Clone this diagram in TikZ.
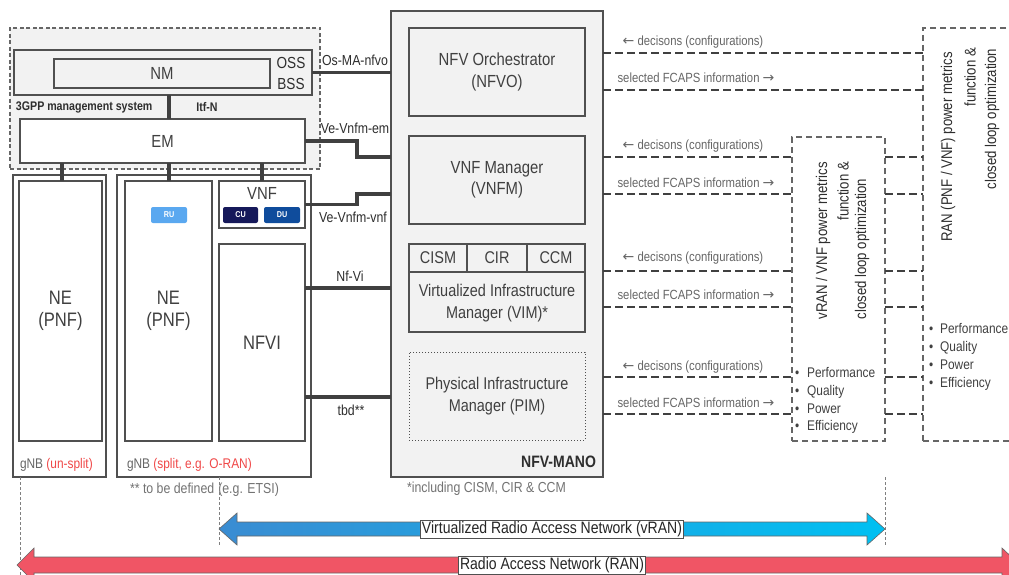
\documentclass[tikz,border=0pt]{standalone}
\usepackage{fontspec}
\setmainfont[FakeStretch=0.85]{Liberation Sans}
\newfontfamily\symf{DejaVu Sans}
\usetikzlibrary{calc}
\definecolor{boxc}{HTML}{505050}
\definecolor{fillg}{HTML}{F2F2F2}
\definecolor{txtc}{HTML}{404040}
\definecolor{connc}{HTML}{404040}
\definecolor{dashc}{HTML}{666666}
\definecolor{redt}{HTML}{F04848}
\definecolor{ruc}{HTML}{5AA8F0}
\definecolor{cuc}{HTML}{16195A}
\definecolor{duc}{HTML}{0F4C9C}
\definecolor{vranL}{HTML}{3A8CD2}
\definecolor{vranR}{HTML}{00C0F2}
\definecolor{ranc}{HTML}{F05565}
\newcommand{\fsz}[2]{\fontsize{#1}{#2}\selectfont}
\tikzset{
  box/.style={draw=boxc, line width=1.5pt, inner sep=0pt, outer sep=0pt, text=txtc},
  gbox/.style={box, fill=fillg},
  wbox/.style={box, fill=white},
  mgmtbox/.style={draw=dashc, line width=1.1pt, dash pattern=on 4pt off 2.5pt, fill=fillg, inner sep=0pt, outer sep=0pt},
  dbox/.style={draw=dashc, line width=1.4pt, dash pattern=on 6pt off 4pt, inner sep=0pt, outer sep=0pt},
  lbl/.style={inner sep=0pt, outer sep=0pt, text=txtc},
  ilbl/.style={inner sep=0pt, outer sep=0pt, text=black!82},
  conn/.style={draw=connc, line width=3.2pt},
  dconn/.style={draw=connc, line width=2.8pt, dash pattern=on 8pt off 4pt},
  guide/.style={draw=gray, line width=0.8pt, dash pattern=on 3pt off 2pt},
  chip/.style={rounded corners=2pt, inner sep=0pt, text=white, font=\bfseries\fsz{8.5}{10}},
  alabel/.style={fill=white, draw=boxc, line width=0.6pt, inner sep=1.5pt, text=black!85, font=\fsz{16.5}{18}},
}
\begin{document}
\begin{tikzpicture}[x=1pt,y=-1pt]
\path[use as bounding box] (0,0) rectangle (1009,575);
\clip (0,0) rectangle (1009,575);
\fill[white] (0,0) rectangle (1009,575);

% ---------- 3GPP management system ----------
\node[mgmtbox, minimum width=310pt, minimum height=141pt] (mgmt) at (165,98.5) {};
\node[gbox, minimum width=298pt, minimum height=45pt] (oss) at (163,72.5) {};
\node[gbox, minimum width=216pt, minimum height=29pt, font=\fsz{17.5}{20}] (nm) at (162,73.5) {NM};
\node[ilbl, align=center, font=\fsz{16}{21}] (ossl) at (291,73) {OSS\\BSS};
\node[ilbl, anchor=west, font=\bfseries\fsz{12.5}{15}] (mgl) at (16,107) {3GPP management system};
\node[ilbl, font=\bfseries\fsz{12.5}{15}] (itf) at (207,107) {Itf-N};
\node[wbox, minimum width=285pt, minimum height=44pt, font=\fsz{17.5}{20}] (em) at (162.5,141) {EM};

% ---------- gNBs ----------
\node[box, minimum width=93pt, minimum height=302pt] (gnb1) at (59.5,326) {};
\node[box, minimum width=83pt, minimum height=260pt, align=center, font=\fsz{19.5}{22}] (ne1) at (60.5,311) {NE\\(PNF)};
\node[lbl, anchor=west, font=\fsz{14}{16}] (gnb1l) at (20,465) {\textcolor{black!60}{gNB} \textcolor{redt}{(un-split)}};

\node[box, minimum width=194pt, minimum height=302pt] (gnb2) at (214,326) {};
\node[box, minimum width=87pt, minimum height=260pt, align=center, font=\fsz{19.5}{22}] (ne2) at (168.5,311) {NE\\(PNF)};
\node[chip, fill=ruc, minimum width=36pt, minimum height=16pt] (ru) at (169,215) {RU};
\node[box, minimum width=86pt, minimum height=47pt] (vnf) at (262,204.5) {};
\node[lbl, font=\fsz{17.5}{20}] (vnfl) at (262,193) {VNF};
\node[chip, fill=cuc, minimum width=35pt, minimum height=16pt] (cu) at (240.5,215) {CU};
\node[chip, fill=duc, minimum width=36pt, minimum height=16pt] (du) at (282,215) {DU};
\node[box, minimum width=86pt, minimum height=197pt, font=\fsz{19.5}{22}] (nfvi) at (262,342.5) {NFVI};
\node[lbl, anchor=west, font=\fsz{14}{16}] (gnb2l) at (127,465) {\textcolor{black!60}{gNB} \textcolor{redt}{(split, e.g. O-RAN)}};
\node[lbl, anchor=west, text=black!55, font=\fsz{14.5}{16}] (tbdnote) at (130,490) {** to be defined\hspace{4pt}(e.g. ETSI)};

% ---------- NFV-MANO ----------
\node[gbox, minimum width=212pt, minimum height=466pt] (mano) at (497,244) {};
\node[gbox, minimum width=176pt, minimum height=88pt, align=center, font=\fsz{17.5}{21.5}] (nfvo) at (497,72) {NFV Orchestrator\\(NFVO)};
\node[gbox, minimum width=176pt, minimum height=88pt, align=center, font=\fsz{17.5}{21.5}] (vnfm) at (497,180) {VNF Manager\\(VNFM)};
\node[gbox, minimum width=176pt, minimum height=88pt] (vim) at (497,288) {};
\draw[draw=boxc, line width=1.5pt] (vim.west |- 0,272) -- (vim.east |- 0,272);
\draw[draw=boxc, line width=1.5pt] (vim.north -| 467,0) -- (467,272);
\draw[draw=boxc, line width=1.5pt] (vim.north -| 527,0) -- (527,272);
\node[lbl, font=\fsz{17}{19}] (cism) at (438,258) {CISM};
\node[lbl, font=\fsz{17}{19}] (cir) at (497,258) {CIR};
\node[lbl, font=\fsz{17}{19}] (ccm) at (556,258) {CCM};
\node[lbl, align=center, font=\fsz{17}{22}] (viml) at (497,303) {Virtualized Infrastructure\\Manager (VIM)*};
\node[draw=boxc, line width=1pt, dotted, fill=fillg, inner sep=0pt, minimum width=176pt, minimum height=88pt, align=center, text=txtc, font=\fsz{17}{22}] (pim) at (497,396) {Physical Infrastructure\\Manager (PIM)};
\node[ilbl, anchor=east, font=\bfseries\fsz{16.5}{18}] (manol) at (596,462) {NFV-MANO};
\node[lbl, anchor=west, text=black!55, font=\fsz{14.5}{16}] (incl) at (407,489) {*including CISM, CIR \& CCM};

% ---------- solid interfaces ----------
\coordinate (itfx) at (169,0);
\draw[conn] (oss.south -| itfx) -- (em.north -| itfx);
\draw[conn] (oss.east) -- (oss.east -| mano.west);
\draw[conn] (em.east) -- (357,141) -- (357,157) -- (mano.west |- 0,157);
\draw[conn] (em.south -| 62,0) -- (ne1.north -| 62,0);
\draw[conn] (em.south -| itfx) -- (ne2.north -| itfx);
\draw[conn] (em.south -| vnf.north) -- (vnf.north);
\draw[conn] (vnf.east) -- (357,204.5) -- (357,194) -- (mano.west |- 0,194);
\draw[conn] (nfvi.east |- 0,288) -- (mano.west |- 0,288);
\draw[conn] (nfvi.east |- 0,397) -- (mano.west |- 0,397);
\node[ilbl, font=\fsz{14.5}{16}] (l1) at (355,60) {Os-MA-nfvo};
\node[ilbl, font=\fsz{14.5}{16}] (l2) at (355,128) {Ve-Vnfm-em};
\node[ilbl, font=\fsz{14.5}{16}] (l3) at (353,217) {Ve-Vnfm-vnf};
\node[ilbl, font=\fsz{14.5}{16}] (l4) at (350,276) {Nf-Vi};
\node[ilbl, font=\fsz{14.5}{16}] (l5) at (351,410) {tbd**};

% ---------- right side function boxes ----------
\node[dbox, minimum width=93pt, minimum height=304pt] (vranbox) at (838.5,289) {};
\node[dbox, minimum width=100pt, minimum height=413pt] (ranbox) at (973,234.5) {};

\node[ilbl, rotate=90, anchor=east, font=\fsz{15.5}{17}] (vt1) at (823,162) {vRAN / VNF power metrics};
\node[ilbl, rotate=90, anchor=east, font=\fsz{15.5}{17}] (vt2) at (843,162) {function \&};
\node[ilbl, rotate=90, font=\fsz{15.5}{17}] (vt3) at (862,249) {closed loop optimization};
\node[ilbl, rotate=90, font=\fsz{15.5}{17}] (rt1) at (948,147) {RAN (PNF / VNF) power metrics};
\node[ilbl, rotate=90, anchor=east, font=\fsz{15.5}{17}] (rt2) at (970,48) {function \&};
\node[ilbl, rotate=90, font=\fsz{15.5}{17}] (rt3) at (992,119) {closed loop optimization};

\node[lbl, anchor=west, align=left, font=\fsz{14}{17.8}] (vb) at (795,400.5) {\textbullet\hspace{8pt}Performance\\\textbullet\hspace{8pt}Quality\\\textbullet\hspace{8pt}Power\\\textbullet\hspace{8pt}Efficiency};
\node[lbl, anchor=west, align=left, font=\fsz{14}{17.8}] (rb) at (929,357) {\textbullet\hspace{7pt}Performance\\\textbullet\hspace{7pt}Quality\\\textbullet\hspace{7pt}Power\\\textbullet\hspace{7pt}Efficiency};

% ---------- dashed control loops ----------
\foreach \y in {53,90} {
  \draw[dconn] (mano.east |- 0,\y) -- (ranbox.west |- 0,\y);
}
\foreach \y in {157,194,271,307,377,414} {
  \draw[dconn] (mano.east |- 0,\y) -- (vranbox.west |- 0,\y);
  \draw[dconn] (vranbox.east |- 0,\y) -- (ranbox.west |- 0,\y);
}
\foreach \y/\n in {42/a,146/b,258/c,367/d} {
  \node[lbl, text=black!60, font=\fsz{13.3}{15}] (dec\n) at (693,\y) {{\symf\fsz{14}{15}←} decisons (configurations)};
}
\foreach \y/\n in {78/a,183/b,295/c,403/d} {
  \node[lbl, text=black!60, font=\fsz{13.3}{15}] (sel\n) at (696,\y) {selected FCAPS information {\symf\fsz{14}{15}→}};
}

% ---------- guides ----------
\draw[guide] (gnb1.south -| 20,0) -- (20,575);
\draw[guide] (gnb2.south -| nfvi.west) -- (219,545);
\draw[guide] (vranbox.south east) ++(0,36) -- (885,545);

% ---------- bottom arrows ----------
\path[draw=black!60, line width=0.6pt, left color=vranL, right color=vranR]
  (219,529) -- (237,513) -- (237,522) -- (867,522) -- (867,513) -- (885,529)
  -- (867,545) -- (867,536) -- (237,536) -- (237,545) -- cycle;
\node[alabel] (vranl) at (552,529) {Virtualized Radio Access Network (vRAN)};
\path[draw=black!60, line width=0.6pt, fill=ranc]
  (17,565) -- (34,548) -- (34,557) -- (1002,557) -- (1002,548) -- (1020,565)
  -- (1002,582) -- (1002,573) -- (34,573) -- (34,582) -- cycle;
\node[alabel] (ranl) at (552,565) {Radio Access Network (RAN)};
\end{tikzpicture}
\end{document}
